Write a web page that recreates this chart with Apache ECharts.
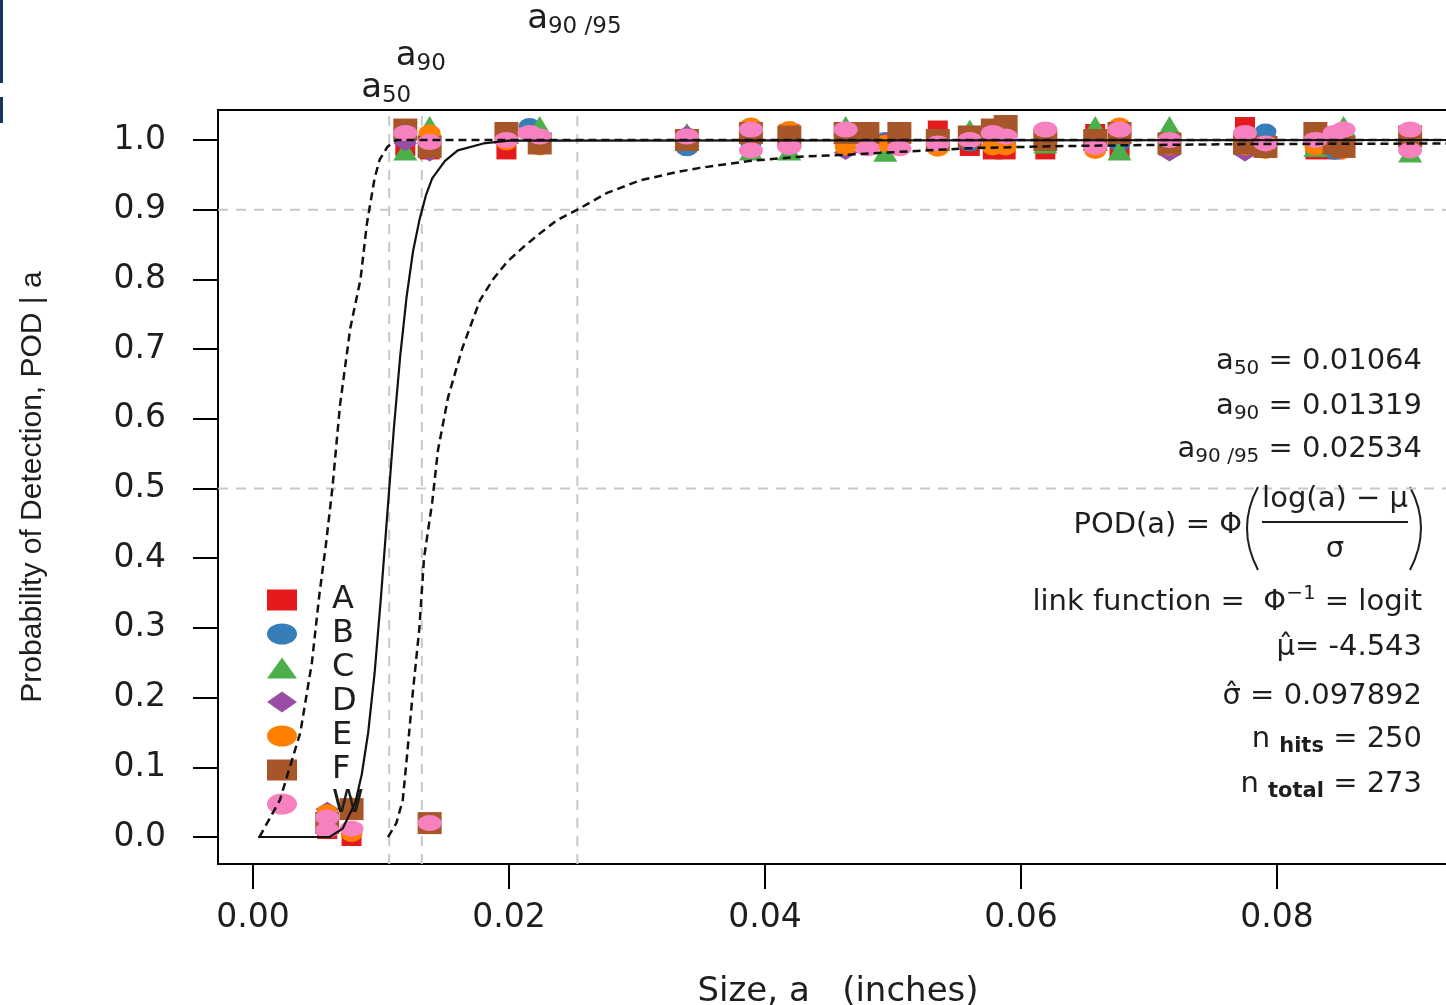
<!DOCTYPE html>
<html><head><meta charset="utf-8">
<script src="https://cdn.jsdelivr.net/npm/echarts@6/dist/echarts.min.js"></script>
<style>html,body{margin:0;padding:0;background:#fff}#c{width:1446px;height:1005px}</style>
</head><body><div id="c"></div>
<script>
// ---------- data ----------
const groupNames = ['A','B','C','D','E','F','W'];
const groupColors = ['#e41a1c','#377eb8','#4daf4a','#984ea3','#ff7f00','#a65628','#f781bf'];
const groupSymbols = ['rect','circle','triangle','diamond','circle','rect','circle'];
const groupSizes = [[20,18],[22,16],[24,20],[24,15],[22,17],[24,22],[24,16]];

const groupA = [[0.0119,0.99],[0.0138,0.985],[0.0198,0.985],[0.0339,0.995],[0.0389,1.0],[0.0419,1.01],[0.0463,1.0],[0.0535,1.015],[0.0560,0.99],[0.0578,0.985],[0.0588,0.985],[0.0619,0.985],[0.0658,1.01],[0.0677,0.985],[0.0716,0.99],[0.0775,1.02],[0.0791,0.995],[0.0830,0.985],[0.0845,0.985],[0.0904,1.0],[0.0058,0.01],[0.0077,0.0]];
const groupB = [[0.0119,1.0],[0.0216,1.02],[0.0339,0.988],[0.0389,0.997],[0.0419,0.993],[0.0463,0.995],[0.0494,1.0],[0.0560,0.995],[0.0677,0.995],[0.0791,1.012],[0.0845,0.983],[0.0058,0.03]];
const groupC = [[0.0119,0.985],[0.0138,1.02],[0.0224,1.02],[0.0339,1.01],[0.0389,0.985],[0.0419,0.985],[0.0463,1.02],[0.0494,0.983],[0.0560,1.015],[0.0588,1.02],[0.0619,0.995],[0.0658,1.02],[0.0677,0.985],[0.0716,1.02],[0.0830,0.99],[0.0852,1.02],[0.0904,0.982],[0.0077,0.045]];
const groupD = [[0.0119,0.995],[0.0138,0.98],[0.0339,1.01],[0.0463,0.982],[0.0494,1.0],[0.0578,1.0],[0.0658,0.995],[0.0716,0.98],[0.0775,0.98],[0.0830,1.0],[0.0852,1.0],[0.0904,0.992],[0.0058,0.04],[0.0077,0.045]];
const groupE = [[0.0138,1.01],[0.0198,0.997],[0.0224,0.99],[0.0389,1.02],[0.0419,1.015],[0.0463,0.99],[0.0494,0.995],[0.0535,0.988],[0.0578,0.99],[0.0588,0.99],[0.0658,0.985],[0.0677,1.02],[0.0716,0.99],[0.0775,0.99],[0.0791,0.985],[0.0830,0.99],[0.0845,0.995],[0.0852,0.985],[0.0904,0.995],[0.0058,0.035],[0.0077,0.005]];
const groupF = [[0.0119,1.015],[0.0138,0.99],[0.0198,1.01],[0.0224,0.995],[0.0339,1.0],[0.0389,1.01],[0.0419,1.005],[0.0463,1.01],[0.0480,1.01],[0.0505,1.01],[0.0535,1.0],[0.0560,1.005],[0.0578,1.015],[0.0588,1.02],[0.0619,1.0],[0.0658,1.0],[0.0677,1.01],[0.0716,0.995],[0.0775,0.995],[0.0791,0.99],[0.0830,1.01],[0.0845,0.995],[0.0852,0.99],[0.0904,1.005],[0.0058,0.02],[0.0077,0.04],[0.0138,0.02]];
const groupW = [[0.0119,1.01],[0.0138,0.997],[0.0198,1.0],[0.0216,1.01],[0.0224,1.005],[0.0339,1.005],[0.0389,1.015],[0.0389,0.985],[0.0419,0.99],[0.0463,1.015],[0.0480,0.988],[0.0505,0.988],[0.0535,0.995],[0.0560,1.0],[0.0578,1.01],[0.0588,1.005],[0.0619,1.015],[0.0658,0.99],[0.0677,1.015],[0.0716,1.0],[0.0775,1.01],[0.0791,0.995],[0.0830,1.0],[0.0845,1.01],[0.0852,1.015],[0.0904,1.015],[0.0904,0.985],[0.0058,0.028],[0.0058,0.01],[0.0077,0.012],[0.0138,0.02]];
const groupData = [groupA, groupB, groupC, groupD, groupE, groupF, groupW];

// fitted POD curve (solid)
const podX = [0.0004,0.0060,0.0070,0.0080,0.0085,0.0090,0.0095,0.0100,0.0105,0.0110,0.0115,0.0120,0.0125,0.0130,0.0135,0.0140,0.0150,0.0160,0.0180,0.0200,0.0935];
const podY = [0.000,0.000,0.012,0.050,0.090,0.150,0.235,0.345,0.465,0.585,0.690,0.775,0.840,0.885,0.920,0.945,0.970,0.985,0.995,0.999,1.000];
// upper confidence bound (left dashed)
const upX = [0.0005,0.0021,0.0037,0.0046,0.0052,0.0057,0.0062,0.0068,0.0076,0.0084,0.0089,0.0095,0.0099,0.0105,0.0112,0.0935];
const upY = [0.000,0.053,0.150,0.250,0.350,0.420,0.500,0.620,0.730,0.800,0.880,0.945,0.972,0.990,1.000,1.000];
// lower confidence bound (right dashed)
const loX = [0.01055,0.0112,0.0117,0.0120,0.0125,0.0130,0.01336,0.0140,0.01445,0.01523,0.01633,0.01773,0.01875,0.01984,0.0211,0.02242,0.02375,0.02534,0.02766,0.03023,0.03313,0.03492,0.03883,0.04273,0.04664,0.05055,0.05578,0.06227,0.06617,0.07656,0.0935];
const loY = [0.000,0.020,0.053,0.110,0.210,0.300,0.400,0.480,0.555,0.630,0.700,0.770,0.800,0.825,0.846,0.866,0.885,0.900,0.924,0.942,0.954,0.960,0.970,0.976,0.979,0.983,0.988,0.991,0.992,0.994,0.995];

const a50 = 0.01064, a90 = 0.01319, a9095 = 0.02534;
const refSizes = [a50, a90, a9095];
const refLevels = [0.5, 0.9];
const xTicks = [0, 0.02, 0.04, 0.06, 0.08];
const yTicks = [0,0.1,0.2,0.3,0.4,0.5,0.6,0.7,0.8,0.9,1.0];

// ---------- chart ----------
const F = 'DejaVu Sans';
const TC = '#1e1e1e';
const XMIN = -0.002734, XMAX = 0.094141, YMIN = -0.0387, YMAX = 1.043;
const zip = (xs, ys) => xs.map((x, i) => [x, ys[i]]);
const chart = echarts.init(document.getElementById('c'), null, {renderer: 'canvas'});

const ellipseIcon = 'path://M0,5 A5,5 0 1,1 10,5 A5,5 0 1,1 0,5 Z';
const legendData = groupNames.map((n, i) => groupSymbols[i] === 'circle' ? {name: n, icon: ellipseIcon} : {name: n});

const refStyle = {color: '#c8c8c8', type: [10, 8], width: 2};
const series = [];
refSizes.forEach((v, i) => series.push({name: 'vref' + i, type: 'line', silent: true, z: 1, symbol: 'none',
  data: [[v, YMIN], [v, YMAX]], lineStyle: refStyle}));
refLevels.forEach((v, i) => series.push({name: 'href' + i, type: 'line', silent: true, z: 1, symbol: 'none',
  data: [[XMIN, v], [XMAX, v]], lineStyle: refStyle}));
groupNames.forEach((n, i) => series.push({
  name: n, type: 'scatter', data: groupData[i],
  symbol: groupSymbols[i], symbolSize: groupSizes[i], symbolKeepAspect: false,
  itemStyle: {color: groupColors[i], opacity: 1}, z: 3 + i * 0.01
}));
series.push({name: 'pod', type: 'line', data: zip(podX, podY), showSymbol: false, symbol: 'none', z: 5,
  lineStyle: {color: '#111', width: 2.2, type: 'solid'}});
series.push({name: 'upper', type: 'line', data: zip(upX, upY), showSymbol: false, symbol: 'none', z: 5,
  lineStyle: {color: '#111', width: 2.5, type: [8, 5]}});
series.push({name: 'lower', type: 'line', data: zip(loX, loY), showSymbol: false, symbol: 'none', z: 5,
  lineStyle: {color: '#111', width: 2.5, type: [8, 5]}});

chart.setOption({
  animation: false,
  backgroundColor: '#fff',
  grid: {left: 218, top: 110, width: 1240, height: 754, show: true, borderColor: '#000', borderWidth: 2,
    containLabel: false, outerBoundsMode: 'none'},
  xAxis: {
    type: 'value', min: XMIN, max: XMAX,
    name: 'Size, a   (inches)', nameLocation: 'middle', nameGap: 111,
    nameTextStyle: {fontFamily: F, fontSize: 34, color: TC},
    axisLine: {show: false, onZero: false},
    axisTick: {show: true, inside: false, length: 25, customValues: xTicks, lineStyle: {color: '#000', width: 2}},
    axisLabel: {customValues: xTicks, margin: 38, fontFamily: F, fontSize: 33, color: TC,
      formatter: v => v.toFixed(2)},
    splitLine: {show: false}
  },
  yAxis: {
    type: 'value', min: YMIN, max: YMAX,
    name: 'Probability of Detection, POD | a', nameLocation: 'middle', nameGap: 170,
    nameTextStyle: {fontFamily: 'Liberation Sans', fontSize: 30, color: TC},
    axisLine: {show: false, onZero: false},
    axisTick: {show: true, inside: false, length: 25, customValues: yTicks, lineStyle: {color: '#000', width: 2}},
    axisLabel: {customValues: yTicks, margin: 52, fontFamily: F, fontSize: 33, color: TC,
      formatter: v => v.toFixed(1)},
    splitLine: {show: false}
  },
  legend: {
    data: legendData, orient: 'vertical', left: 262, top: 579,
    itemWidth: 30, itemHeight: 21, itemGap: 2, selectedMode: false, symbolKeepAspect: false,
    textStyle: {fontFamily: F, fontSize: 32, color: TC, lineHeight: 32, padding: [0, 0, 0, 30]}
  },
  series: series
});

// ---------- annotations ----------
const m = {fontFamily: F, fontSize: 29, lineHeight: 36, color: TC};
const s = {fontFamily: F, fontSize: 20, lineHeight: 17, verticalAlign: 'bottom', color: TC};
const sup = {fontFamily: F, fontSize: 20, lineHeight: 17, verticalAlign: 'top', color: TC};
const sb = {fontFamily: F, fontSize: 21, lineHeight: 17, verticalAlign: 'bottom', fontWeight: 'bold', color: TC};
const big = {fontFamily: F, fontSize: 34, lineHeight: 40, color: TC};
const ts = {fontFamily: F, fontSize: 23, lineHeight: 19, verticalAlign: 'bottom', color: TC};
const rich = {m, s, sup, sb, big, ts};
function rt(text, x, y, align) {
  return {type: 'text', x: x, y: y, z: 50, silent: true,
    style: {text: text, rich: rich, align: align || 'right', verticalAlign: 'middle', fill: TC}};
}
const RX = 1422;
const px = v => chart.convertToPixel({xAxisIndex: 0}, v);
const graphics = [
  {type: 'rect', shape: {x: 0, y: 0, width: 3, height: 83}, style: {fill: '#17365d'}, silent: true},
  {type: 'rect', shape: {x: 0, y: 97, width: 3, height: 26}, style: {fill: '#17365d'}, silent: true},
  rt('{big|a}{ts|50}', px(a50) - 3, 88, 'center'),
  rt('{big|a}{ts|90}', px(a90) - 1, 56, 'center'),
  rt('{big|a}{ts|90 /95}', px(a9095) - 3, 19, 'center'),
  rt('{m|a}{s|50}{m| = 0.01064}', RX, 361),
  rt('{m|a}{s|90}{m| = 0.01319}', RX, 406),
  rt('{m|a}{s|90 /95}{m| = 0.02534}', RX, 449),
  rt('{m|POD(a) = Φ}', 1242, 525),
  rt('{m|log(a) − μ}', 1335, 499, 'center'),
  rt('{m|σ}', 1335, 549, 'center'),
  {type: 'line', shape: {x1: 1262, y1: 522, x2: 1408, y2: 522}, style: {stroke: TC, lineWidth: 2}, silent: true},
  {type: 'bezierCurve', shape: {x1: 1258, y1: 487, x2: 1258, y2: 570, cpx1: 1236, cpy1: 528}, style: {stroke: TC, lineWidth: 2, fill: null}, silent: true},
  {type: 'bezierCurve', shape: {x1: 1410, y1: 487, x2: 1410, y2: 570, cpx1: 1432, cpy1: 528}, style: {stroke: TC, lineWidth: 2, fill: null}, silent: true},
  rt('{m|link function =  Φ}{sup|−1}{m| = logit}', RX, 602),
  rt('{m|μ\u0302= -4.543}', RX, 647),
  rt('{m|σ\u0302 = 0.097892}', RX, 696),
  rt('{m|n }{sb|hits}{m| = 250}', RX, 739),
  rt('{m|n }{sb|total}{m| = 273}', RX, 784)
];
chart.setOption({graphic: graphics});
</script></body></html>
